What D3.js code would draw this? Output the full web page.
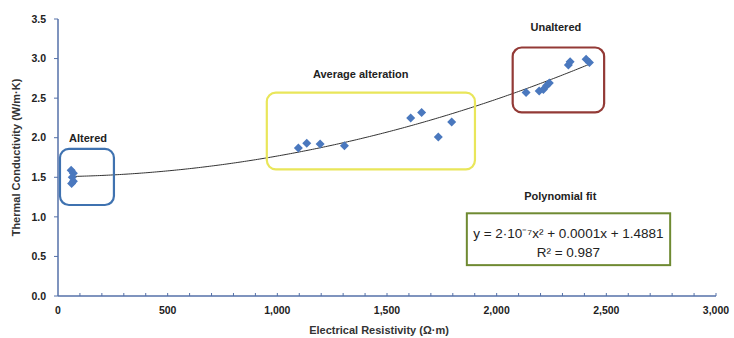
<!DOCTYPE html>
<html>
<head>
<meta charset="utf-8">
<script src="https://cdn.jsdelivr.net/npm/d3@7"></script>
<style>
  body { margin: 0; background: #fff; }
  text { font-family: "Liberation Sans", Arial, sans-serif; }
  .tick-label { font-size: 10.5px; font-weight: bold; fill: #222; }
  .axis-title { font-size: 11px; font-weight: bold; fill: #333; }
  .note { font-size: 11px; font-weight: bold; fill: #222; }
</style>
</head>
<body>
<div id="chart"></div>
<script>
// measured samples (resistivity in ohm-m, conductivity in W/m-K)
const resistivity = [60, 70, 65, 70, 62,
    1096, 1134, 1195, 1306, 1608, 1658, 1734, 1795,
    2134, 2194, 2213, 2228, 2240, 2327, 2335, 2408, 2423];
const conductivity = [1.59, 1.55, 1.50, 1.45, 1.42,
    1.87, 1.93, 1.92, 1.90, 2.25, 2.32, 2.01, 2.20,
    2.57, 2.59, 2.61, 2.66, 2.69, 2.92, 2.96, 2.99, 2.95];

const xTicks = [0, 500, 1000, 1500, 2000, 2500, 3000];
const yTicks = [0, 0.5, 1, 1.5, 2, 2.5, 3, 3.5];

// annotation boxes, in data units
const groupNames = ["Altered", "Average alteration", "Unaltered"];
const groupColors = ["#3f72b0", "#e9e65a", "#933a36"];
const groupBoxes = [[9, 255, 1.15, 1.86], [952, 1901, 1.60, 2.57], [2073, 2490, 2.32, 3.14]];
const groupLabelAt = [[137, 2.0], [1380, 2.80], [2270, 3.40]];

const fitTitle = "Polynomial fit";
const fitEquation = "y = 2·10⁻⁷x² + 0.0001x + 1.4881";
const fitR2 = "R² = 0.987";

const width = 734, height = 338;
const margin = { left: 58, right: 18, top: 19, bottom: 42 };

const svg = d3.select("#chart").append("svg")
    .attr("width", width)
    .attr("height", height);

const x = d3.scaleLinear().domain([0, 3000]).range([margin.left, width - margin.right]);
const y = d3.scaleLinear().domain([0, 3.5]).range([height - margin.bottom, margin.top]);

const axisColor = "#5470a8";

// y axis
svg.append("line")
    .attr("x1", x(0)).attr("x2", x(0))
    .attr("y1", y(0)).attr("y2", y(3.5))
    .attr("stroke", axisColor).attr("stroke-width", 1.5);
svg.selectAll(".ytick").data(yTicks).enter().append("line")
    .attr("x1", x(0) - 4).attr("x2", x(0))
    .attr("y1", d => y(d)).attr("y2", d => y(d))
    .attr("stroke", axisColor);
svg.selectAll(".ylab").data(yTicks).enter().append("text")
    .attr("class", "tick-label")
    .attr("x", x(0) - 12)
    .attr("y", d => y(d))
    .attr("dy", "0.35em")
    .attr("text-anchor", "end")
    .text(d => d3.format(".1f")(d));

// x axis, small ticks every 100
svg.append("line")
    .attr("x1", x(0)).attr("x2", x(3000))
    .attr("y1", y(0)).attr("y2", y(0))
    .attr("stroke", axisColor).attr("stroke-width", 1.5);
svg.selectAll(".xtick").data(d3.range(100, 3001, 100)).enter().append("line")
    .attr("x1", d => x(d)).attr("x2", d => x(d))
    .attr("y1", y(0)).attr("y2", y(0) - 3)
    .attr("stroke", axisColor);
svg.selectAll(".xlab").data(xTicks).enter().append("text")
    .attr("class", "tick-label")
    .attr("x", d => x(d))
    .attr("y", y(0) + 18)
    .attr("text-anchor", "middle")
    .text(d => d3.format(",")(d));

svg.append("text")
    .attr("class", "axis-title")
    .attr("x", (x(0) + x(3000)) / 2 - 8)
    .attr("y", height - 4)
    .attr("text-anchor", "middle")
    .text("Electrical Resistivity (Ω·m)");

svg.append("text")
    .attr("class", "axis-title")
    .attr("transform", `translate(20,${(y(0) + y(3.5)) / 2}) rotate(-90)`)
    .attr("text-anchor", "middle")
    .text("Thermal Conductivity (W/m·K)");

// least squares quadratic, same as the spreadsheet trendline
function quadFit(xs, ys) {
    let s = [0, 0, 0, 0, 0], t = [0, 0, 0];
    xs.forEach((xv, i) => {
        for (let k = 0; k < 5; k++) s[k] += Math.pow(xv, k);
        for (let k = 0; k < 3; k++) t[k] += ys[i] * Math.pow(xv, k);
    });
    const m = [[s[0], s[1], s[2], t[0]], [s[1], s[2], s[3], t[1]], [s[2], s[3], s[4], t[2]]];
    for (let i = 0; i < 3; i++) {
        for (let j = i + 1; j < 3; j++) {
            const f = m[j][i] / m[i][i];
            for (let k = i; k < 4; k++) m[j][k] -= f * m[i][k];
        }
    }
    const c = [0, 0, 0];
    for (let i = 2; i >= 0; i--) {
        let v = m[i][3];
        for (let k = i + 1; k < 3; k++) v -= m[i][k] * c[k];
        c[i] = v / m[i][i];
    }
    return c;
}

const coef = quadFit(resistivity, conductivity);
const fitX = d3.range(d3.min(resistivity), d3.max(resistivity) + 1, 10);
svg.append("path")
    .datum(fitX)
    .attr("fill", "none")
    .attr("stroke", "#333")
    .attr("stroke-width", 1)
    .attr("d", d3.line()
        .x(d => x(d))
        .y(d => y(coef[0] + coef[1] * d + coef[2] * d * d)));

// group boxes
groupBoxes.forEach((b, i) => {
    svg.append("rect")
        .attr("x", x(b[0]))
        .attr("y", y(b[3]))
        .attr("width", x(b[1]) - x(b[0]))
        .attr("height", y(b[2]) - y(b[3]))
        .attr("rx", 9).attr("ry", 9)
        .attr("fill", "none")
        .attr("stroke", groupColors[i])
        .attr("stroke-width", 2.2);
    svg.append("text")
        .attr("class", "note")
        .attr("x", x(groupLabelAt[i][0]))
        .attr("y", y(groupLabelAt[i][1]))
        .attr("dy", "0.35em")
        .attr("text-anchor", "middle")
        .text(groupNames[i]);
});

// points (square diamonds)
const r = 4.5;
svg.selectAll(".pt").data(resistivity).enter().append("path")
    .attr("transform", (d, i) => `translate(${x(d)},${y(conductivity[i])})`)
    .attr("d", `M0,${-r}L${r},0L0,${r}L${-r},0Z`)
    .attr("fill", "#4a78be");

// fit annotation
svg.append("text")
    .attr("class", "note")
    .attr("x", x(2290))
    .attr("y", y(1.26))
    .attr("dy", "0.35em")
    .attr("text-anchor", "middle")
    .text(fitTitle);

svg.append("rect")
    .attr("x", x(1864))
    .attr("y", y(1.045))
    .attr("width", x(2791) - x(1864))
    .attr("height", y(0.39) - y(1.045))
    .attr("fill", "none")
    .attr("stroke", "#6f8a32")
    .attr("stroke-width", 2);

svg.append("text")
    .attr("x", x(2327))
    .attr("y", y(0.79))
    .attr("dy", "0.35em")
    .attr("text-anchor", "middle")
    .attr("font-size", "13.5px")
    .attr("fill", "#222")
    .text(fitEquation);

svg.append("text")
    .attr("x", x(2327))
    .attr("y", y(0.55))
    .attr("dy", "0.35em")
    .attr("text-anchor", "middle")
    .attr("font-size", "13.5px")
    .attr("fill", "#222")
    .text(fitR2);
</script>
</body>
</html>
